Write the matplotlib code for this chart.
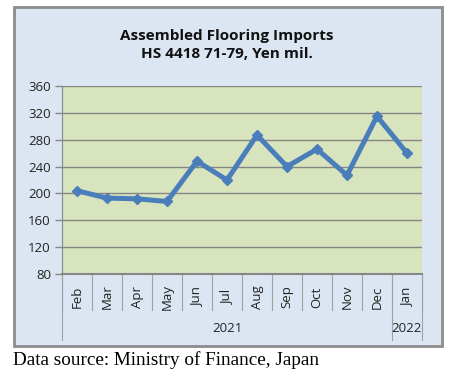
import matplotlib.pyplot as plt
from matplotlib.patches import Rectangle

mois = ["Feb", "Mar", "Apr", "May", "Jun", "Jul", "Aug", "Sep", "Oct", "Nov", "Dec", "Jan"]
valeurs = [204, 193, 192, 188, 248, 220, 287, 240, 266, 227, 315, 260]
annees = ["2021", "2022"]
nb_mois_annee = [11, 1]
yticks = [80, 120, 160, 200, 240, 280, 320, 360]

W, H = 453, 375
fig = plt.figure(figsize=(W / 100, H / 100), dpi=100)
fig.patch.set_facecolor("white")

def px(x0, y0, x1, y1):
    # coordonnees pixels (haut-gauche) -> fraction figure
    return [x0 / W, 1 - y1 / H, (x1 - x0) / W, (y1 - y0) / H]

# cadre du graphique
b = px(14, 7, 442, 346)
fig.patches.append(Rectangle((b[0], b[1]), b[2], b[3], transform=fig.transFigure,
                             facecolor="#dce6f2", edgecolor="#8c8c8c", linewidth=2, zorder=-1))

ax = fig.add_axes(px(62, 86, 422, 274))
ax.set_zorder(1)
ax.set_facecolor("#d7e4bd")
x = list(range(len(mois)))
ax.plot(x, valeurs, color="#4a7ebb", linewidth=3.6, marker="D", markersize=5.5,
        markeredgecolor="#4a7ebb", zorder=3, solid_joinstyle="round")

ax.set_xlim(-0.5, len(mois) - 0.5)
ax.set_ylim(80, 360)
ax.set_yticks(yticks)
ax.set_yticklabels([str(v) for v in yticks], fontsize=9.5, family="Open Sans", color="#222222")
ax.tick_params(axis="y", length=5, color="#868686", width=1, pad=3)
ax.yaxis.grid(True, color="#868686", linewidth=1)
ax.set_axisbelow(True)
ax.set_xticks([])
for s in ["top", "right"]:
    ax.spines[s].set_visible(False)
ax.spines["left"].set_color("#868686")
ax.spines["bottom"].set_color("#868686")
ax.spines["bottom"].set_linewidth(1.5)

tr = ax.get_xaxis_transform()
hpx = 188.0
# separateurs des mois
for i in range(len(mois) + 1):
    bas = -36 / hpx
    ax.plot([i - 0.5, i - 0.5], [0, bas], color="#a0a0a0", linewidth=0.8,
            transform=tr, clip_on=False)
for i, m in enumerate(mois):
    ax.text(i, -23 / hpx, m, rotation=90, ha="center", va="center", fontsize=9.5,
            family="Open Sans", color="#222222", transform=tr)

# niveau des annees
debut = 0
for a, n in zip(annees, nb_mois_annee):
    ax.plot([debut - 0.5, debut - 0.5], [0, -66 / hpx], color="#a0a0a0", linewidth=0.8,
            transform=tr, clip_on=False)
    ax.text(debut - 0.5 + n / 2, -55 / hpx, a, ha="center", va="center", fontsize=9.5,
            family="Open Sans", color="#222222", transform=tr)
    debut += n
ax.plot([debut - 0.5, debut - 0.5], [0, -66 / hpx], color="#a0a0a0", linewidth=0.8,
        transform=tr, clip_on=False)

fig.text(227 / W, 1 - 45 / H, "Assembled Flooring Imports\nHS 4418 71-79, Yen mil.",
         ha="center", va="center", fontsize=11, fontweight="bold", family="Open Sans",
         linespacing=1.4, color="#111111")

fig.text(13 / W, 1 - 360 / H, "Data source: Ministry of Finance, Japan", ha="left",
         va="center", fontsize=13.8, family="Liberation Serif", color="black")

fig.savefig("out.png", dpi=100)
